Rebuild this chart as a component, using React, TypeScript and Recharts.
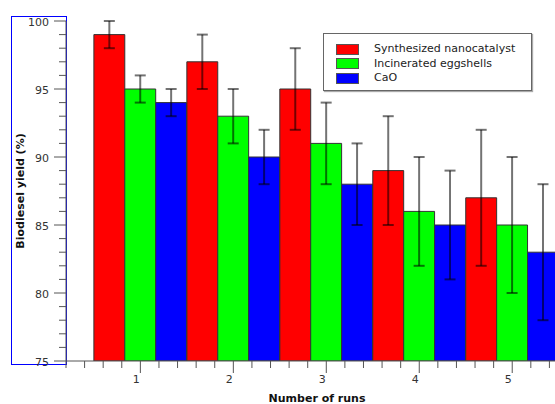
import { BarChart, Bar, XAxis, YAxis, ErrorBar, Label } from 'recharts';

const runs = [1, 2, 3, 4, 5];
const synthesized = [99, 97, 95, 89, 87];
const incinerated = [95, 93, 91, 86, 85];
const cao = [94, 90, 88, 85, 83];
const synthesizedErr = [1, 2, 3, 4, 5];
const incineratedErr = [1, 2, 3, 4, 5];
const caoErr = [1, 2, 3, 4, 5];

const xTicks = [
  0.2, 0.4, 0.6, 0.8, 1, 1.2, 1.4, 1.6, 1.8, 2, 2.2, 2.4, 2.6, 2.8, 3, 3.2, 3.4, 3.6, 3.8, 4,
  4.2, 4.4, 4.6, 4.8, 5, 5.2, 5.4, 5.6,
];
const yTicks = [
  75, 76, 77, 78, 79, 80, 81, 82, 83, 84, 85, 86, 87, 88, 89, 90, 91, 92, 93, 94, 95, 96, 97, 98,
  99, 100,
];

const SERIES = [
  { key: 'synthesized', err: 'synthesizedErr', name: 'Synthesized nanocatalyst', color: '#ff0000' },
  { key: 'incinerated', err: 'incineratedErr', name: 'Incinerated eggshells', color: '#00ff00' },
  { key: 'cao', err: 'caoErr', name: 'CaO', color: '#0000ff' },
];

const data = runs.map((run, i) => ({
  run,
  synthesized: synthesized[i],
  incinerated: incinerated[i],
  cao: cao[i],
  synthesizedErr: synthesizedErr[i],
  incineratedErr: incineratedErr[i],
  caoErr: caoErr[i],
}));

const FONT = '"DejaVu Sans", Tahoma, sans-serif';
const AXIS = '#555';

const YTick = ({ x, y, payload }: any) => {
  const major = payload.value % 5 === 0;
  return (
    <g>
      <line x1={x - (major ? 12 : 7)} x2={x} y1={y} y2={y} stroke={AXIS} />
      {major && (
        <text x={x - 17} y={y + 5} textAnchor="end" fontSize={11} fontFamily={FONT} fill="#333">
          {payload.value}
        </text>
      )}
    </g>
  );
};

const XTick = ({ x, y, payload }: any) => {
  const major = Number.isInteger(payload.value);
  return (
    <g>
      <line x1={x} x2={x} y1={y} y2={y + (major ? 12 : 7)} stroke={AXIS} />
      {major && (
        <text x={x - 4} y={y + 22} textAnchor="middle" fontSize={11} fontFamily={FONT} fill="#333">
          {payload.value}
        </text>
      )}
    </g>
  );
};

// legend drawn as an overlay so it does not eat into the plot area
const LegendBox = () => (
  <div
    style={{
      position: 'absolute',
      left: 323,
      top: 33,
      width: 209,
      height: 58,
      boxSizing: 'border-box',
      border: '1px solid #666',
      background: '#fff',
      boxShadow: '1px 1px 1px #aaa',
      paddingTop: 8,
    }}
  >
    {SERIES.map(s => (
      <div key={s.key} style={{ display: 'flex', alignItems: 'center', height: 14.5 }}>
        <span
          style={{
            display: 'inline-block',
            width: 23,
            height: 11,
            marginLeft: 12,
            background: s.color,
            border: '1px solid #555',
            boxSizing: 'border-box',
          }}
        />
        <span style={{ marginLeft: 15, fontSize: 11, fontFamily: FONT, color: '#222', lineHeight: '14px' }}>
          {s.name}
        </span>
      </div>
    ))}
  </div>
);

const App = () => (
  <div style={{ position: 'absolute', left: 0, top: 0, width: 555, height: 404, overflow: 'hidden', background: '#fff' }}>
    <div
      style={{
        position: 'absolute',
        left: 11,
        top: 16,
        width: 56,
        height: 349,
        boxSizing: 'border-box',
        border: '1px solid #0000ff',
      }}
    />
    <div style={{ position: 'absolute', left: 0, top: 0 }}>
      <BarChart
        width={568}
        height={404}
        data={data}
        margin={{ top: 21, right: 0, bottom: 0, left: 0 }}
        barGap={0}
      >
        <XAxis
          dataKey="run"
          type="number"
          domain={[0.2, 5.6]}
          allowDataOverflow
          ticks={xTicks}
          interval={0}
          height={43}
          tickSize={0}
          tickMargin={0}
          tickLine={false}
          tick={<XTick />}
          stroke={AXIS}
        >
          <Label
            value="Number of runs"
            position="insideBottom"
            offset={2}
            style={{ fontSize: 11, fontWeight: 'bold', fontFamily: FONT, fill: '#111' }}
          />
        </XAxis>
        <YAxis
          type="number"
          domain={[75, 100]}
          allowDataOverflow
          ticks={yTicks}
          interval={0}
          width={66}
          tickSize={0}
          tickMargin={0}
          tickLine={false}
          tick={<YTick />}
          stroke={AXIS}
        >
          <Label
            value="Biodiesel yield (%)"
            angle={-90}
            position="insideLeft"
            offset={20}
            style={{ textAnchor: 'middle', fontSize: 11, fontWeight: 'bold', fontFamily: FONT, fill: '#111' }}
          />
        </YAxis>
        {SERIES.map(s => (
          // three bars just under the ~93px spacing between runs, so groups touch
          <Bar
            key={s.key}
            dataKey={s.key}
            name={s.name}
            fill={s.color}
            stroke="#333"
            strokeWidth={1}
            barSize={30.9}
            isAnimationActive={false}
          >
            <ErrorBar dataKey={s.err} width={5.5} stroke="rgba(0,0,0,0.55)" strokeWidth={2} direction="y" />
          </Bar>
        ))}
      </BarChart>
    </div>
    <LegendBox />
  </div>
);

export default App;
